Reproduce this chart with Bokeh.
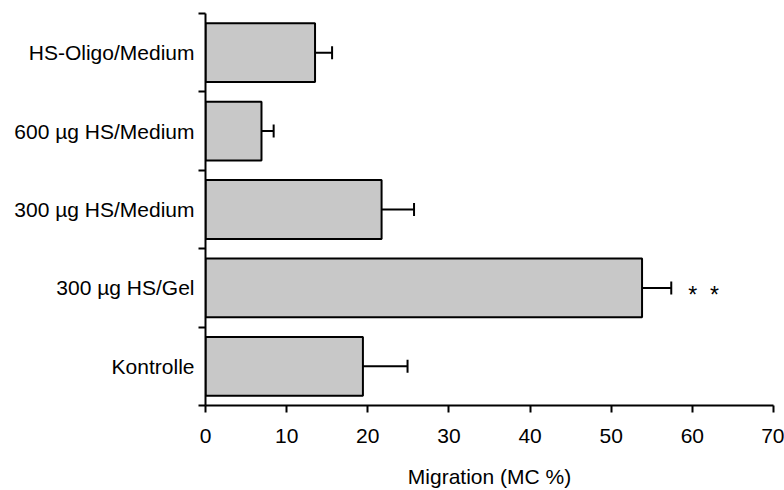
from bokeh.plotting import figure
from bokeh.models import FixedTicker, Range1d, Whisker, TeeHead, ColumnDataSource
from bokeh.core.properties import value
from bokeh.embed import file_html
from bokeh.resources import INLINE

# Groups listed bottom to top
categories = ["Kontrolle", "300 µg HS/Gel", "300 µg HS/Medium", "600 µg HS/Medium", "HS-Oligo/Medium"]
migration = [19.4, 53.8, 21.7, 6.9, 13.5]
sem = [5.5, 3.6, 4.0, 1.5, 2.1]
x_ticks = [0, 10, 20, 30, 40, 50, 60, 70]
significance = ["", "*\u00a0\u00a0*", "", "", ""]

FONT = "Liberation Sans"

centers = [i + 0.5 for i in range(len(categories))]
upper = [m + s for m, s in zip(migration, sem)]

src = ColumnDataSource(dict(y=centers, m=migration, upper=upper, sig=significance))

p = figure(width=784, height=490, output_backend="svg", toolbar_location=None,
           x_range=Range1d(0, 70), y_range=Range1d(0, len(categories)),
           min_border_left=205, min_border_right=11, min_border_top=13, min_border_bottom=85)
p.outline_line_color = None
p.xgrid.visible = False
p.ygrid.visible = False
p.background_fill_color = "white"
p.border_fill_color = "white"

p.hbar(y="y", left=0, right="m", height=0.75, source=src,
       fill_color="#c8c8c8", line_color="black", line_width=2)

err = Whisker(base="y", lower="m", upper="upper", dimension="width", source=src,
              line_color="black", line_width=2,
              lower_head=None, upper_head=TeeHead(size=13, line_color="black", line_width=2))
p.add_layout(err)

p.text(x="upper", y="y", text="sig", source=src, x_offset=17, y_offset=7,
       text_font=value(FONT), text_font_size="23px", text_align="left",
       text_baseline="middle", text_color="black")

# x axis
xa = p.xaxis[0]
xa.ticker = FixedTicker(ticks=x_ticks)
xa.axis_label = "Migration (MC %)"
xa.axis_label_text_font = FONT
xa.axis_label_text_font_size = "21px"
xa.axis_label_text_font_style = "normal"
xa.axis_label_text_color = "black"
xa.axis_label_standoff = 19
xa.major_label_text_font = FONT
xa.major_label_text_font_size = "21px"
xa.major_label_text_color = "black"
xa.major_label_standoff = 16
xa.axis_line_width = 2
xa.axis_line_color = "black"
xa.major_tick_line_width = 2
xa.major_tick_line_color = "black"
xa.major_tick_out = 7
xa.major_tick_in = 0
xa.minor_tick_out = 0
xa.minor_tick_in = 0

# y axis: labels at band centres, tick marks on band boundaries
ya = p.yaxis[0]
ya.ticker = FixedTicker(ticks=centers, minor_ticks=list(range(len(categories) + 1)))
ya.major_label_overrides = {c: lab for c, lab in zip(centers, categories)}
ya.major_label_text_font = FONT
ya.major_label_text_font_size = "21px"
ya.major_label_text_color = "black"
ya.major_label_standoff = 4
ya.major_tick_out = 0
ya.major_tick_in = 0
ya.minor_tick_out = 7
ya.minor_tick_in = 0
ya.minor_tick_line_width = 2
ya.minor_tick_line_color = "black"
ya.axis_line_width = 2
ya.axis_line_color = "black"

open("out.html", "w").write(file_html(p, INLINE))
